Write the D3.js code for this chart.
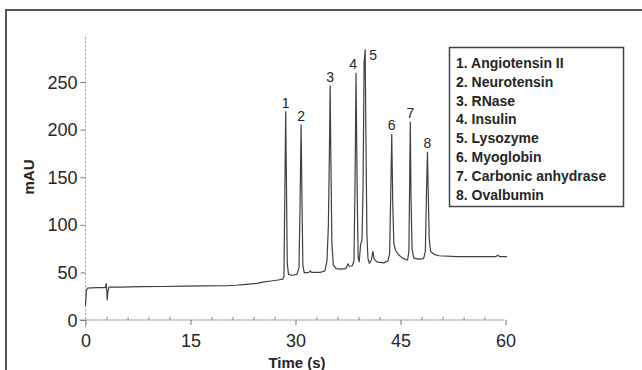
<!DOCTYPE html>
<html>
<head>
<meta charset="utf-8">
<script src="https://cdn.jsdelivr.net/npm/d3@7"></script>
<style>
  html, body { margin: 0; padding: 0; background: #fff; }
  svg { display: block; }
</style>
</head>
<body>
<svg id="chart" width="642" height="370"></svg>
<script>
// ---- data ----
const xTicks = [0, 15, 30, 45, 60];
const xMinorTicks = [3, 6, 9, 12, 18, 21, 24, 27, 33, 36, 39, 42, 48, 51, 54, 57];
const yTicks = [0, 50, 100, 150, 200, 250];
const xDomain = [0, 60];
const yDomain = [0, 297];

const peakIds = ["1", "2", "3", "4", "5", "6", "7", "8"];
const peakTimes = [28.6, 30.8, 34.95, 38.65, 39.95, 43.75, 46.4, 48.85];
const peakHeights = [219, 205, 246, 259, 284, 195, 208, 176];

const legendItems = [
  "1. Angiotensin II",
  "2. Neurotensin",
  "3. RNase",
  "4. Insulin",
  "5. Lysozyme",
  "6. Myoglobin",
  "7. Carbonic anhydrase",
  "8. Ovalbumin"
];

// chromatogram trace: [time (s), mAU]
const signal = [
  [0, 15], [0.12, 30], [0.25, 33.5], [1.5, 34], [2.85, 34], [2.95, 38.5], [3.05, 30], [3.1, 21],
  [3.2, 30], [3.35, 34.5], [5, 34.5], [8, 35], [11, 35.2], [14, 35.5], [17, 35.8], [20, 36],
  [21.5, 36.5], [23, 37.5], [24.5, 38.5], [25.5, 40], [26.5, 41], [27.5, 42], [28.2, 43],
  [28.35, 46], [28.5, 150], [28.6, 219], [28.7, 150], [28.82, 60], [29.0, 48], [29.5, 47],
  [30.2, 48], [30.5, 55], [30.65, 120], [30.8, 205], [30.92, 130], [31.05, 58], [31.25, 49.5],
  [31.9, 50], [32.1, 51.5], [32.3, 50], [33.5, 50], [34.2, 51.5], [34.5, 62], [34.7, 100],
  [34.85, 180], [34.95, 246], [35.05, 170], [35.2, 80], [35.4, 58], [35.8, 54], [36.5, 53.5],
  [37.2, 54], [37.5, 59], [37.7, 56.5], [38.1, 57], [38.35, 62], [38.5, 140], [38.65, 259],
  [38.8, 140], [38.95, 66], [39.1, 61], [39.3, 79], [39.5, 84], [39.65, 140], [39.8, 270],
  [39.95, 284], [40.05, 200], [40.2, 90], [40.35, 65], [40.55, 59.5], [40.85, 63], [41.05, 72],
  [41.25, 64], [41.6, 61], [42.6, 60], [43.2, 62], [43.45, 70], [43.6, 130], [43.75, 195],
  [43.9, 120], [44.05, 80], [44.3, 73], [44.8, 68], [45.4, 64.5], [46.0, 63], [46.2, 72],
  [46.3, 140], [46.4, 208], [46.5, 130], [46.65, 75], [46.9, 65], [47.6, 64], [48.3, 64.5],
  [48.55, 72], [48.7, 130], [48.85, 176], [48.95, 140], [49.1, 85], [49.3, 72], [49.8, 69],
  [50.5, 67.5], [53, 66.5], [56, 66.5], [58.6, 66.5], [58.9, 68], [59.2, 66.5], [60.2, 66.5]
];

// ---- drawing ----
const svg = d3.select("#chart");
const font = "'Liberation Sans', Arial, Helvetica, sans-serif";
const ink = "#262626";

// outer frame
svg.append("rect")
  .attr("x", 6).attr("y", 10).attr("width", 660).attr("height", 400)
  .attr("fill", "none").attr("stroke", "#555").attr("stroke-width", 2);

const x = d3.scaleLinear().domain(xDomain).range([85.5, 505.5]);
const y = d3.scaleLinear().domain(yDomain).range([320, 37.3]);

// x axis (major ticks below, labels)
const gx = svg.append("g").attr("transform", `translate(0,${y(0)})`)
  .call(d3.axisBottom(x).tickValues(xTicks).tickSize(5).tickSizeOuter(0).tickPadding(9)
    .tickFormat(d3.format("d")));
gx.select(".domain").remove();
gx.selectAll(".tick line").attr("stroke", "#777").attr("stroke-width", 1);
gx.selectAll(".tick text").attr("font-family", font).attr("font-size", 18).attr("fill", ink);

// x minor ticks (upward)
const gxm = svg.append("g").attr("transform", `translate(0,${y(0)})`)
  .call(d3.axisTop(x).tickValues(xMinorTicks).tickSize(3).tickFormat(""));
gxm.select(".domain").remove();
gxm.selectAll(".tick line").attr("stroke", "#888").attr("stroke-width", 1);

// y axis
const gy = svg.append("g").attr("transform", `translate(${x(0)},0)`)
  .call(d3.axisLeft(y).tickValues(yTicks).tickSize(5).tickSizeOuter(0).tickPadding(3));
gy.select(".domain").remove();
gy.selectAll(".tick line").attr("stroke", "#777").attr("stroke-width", 1);
gy.selectAll(".tick text").attr("font-family", font).attr("font-size", 18).attr("fill", ink)
  .attr("dy", "0.34em");

// dotted axis lines
svg.append("line")
  .attr("x1", x(0) - 6).attr("x2", x(60)).attr("y1", y(0)).attr("y2", y(0))
  .attr("stroke", "#777").attr("stroke-width", 1).attr("stroke-dasharray", "2,1");
svg.append("line")
  .attr("x1", x(0)).attr("x2", x(0)).attr("y1", y(yDomain[1])).attr("y2", y(0) + 8)
  .attr("stroke", "#999").attr("stroke-width", 1).attr("stroke-dasharray", "2,2");

// axis titles
svg.append("text")
  .attr("x", 297).attr("y", 368)
  .attr("text-anchor", "middle").attr("font-family", font).attr("font-weight", "bold")
  .attr("font-size", 15).attr("fill", ink).text("Time (s)");
svg.append("text")
  .attr("transform", `translate(34,${177}) rotate(-90)`)
  .attr("text-anchor", "middle").attr("font-family", font).attr("font-weight", "bold")
  .attr("font-size", 15).attr("fill", ink).text("mAU");

// trace
const line = d3.line().x(d => x(d[0])).y(d => y(d[1]));
svg.append("path")
  .datum(signal)
  .attr("d", line)
  .attr("fill", "none").attr("stroke", "#404040").attr("stroke-width", 1.2)
  .attr("stroke-linejoin", "round");

// peak labels
const labelShift = { "4": -3, "5": 8 };
const labelLift = { "5": -14 };
svg.append("g").selectAll("text")
  .data(peakIds)
  .join("text")
  .attr("x", (d, i) => x(peakTimes[i]) + (labelShift[d] || 0))
  .attr("y", (d, i) => y(peakHeights[i]) - 4 - (labelLift[d] || 0))
  .attr("text-anchor", "middle")
  .attr("font-family", font).attr("font-size", 14).attr("fill", ink)
  .text(d => d);

// legend
const lg = svg.append("g");
lg.append("rect")
  .attr("x", 449.5).attr("y", 47.5).attr("width", 174).attr("height", 159)
  .attr("fill", "#fff").attr("stroke", "#444").attr("stroke-width", 1.5);
lg.selectAll("text")
  .data(legendItems)
  .join("text")
  .attr("x", 456)
  .attr("y", (d, i) => 68 + i * 18.8)
  .attr("font-family", font).attr("font-weight", "bold").attr("font-size", 14)
  .attr("fill", ink)
  .text(d => d);
</script>
</body>
</html>
